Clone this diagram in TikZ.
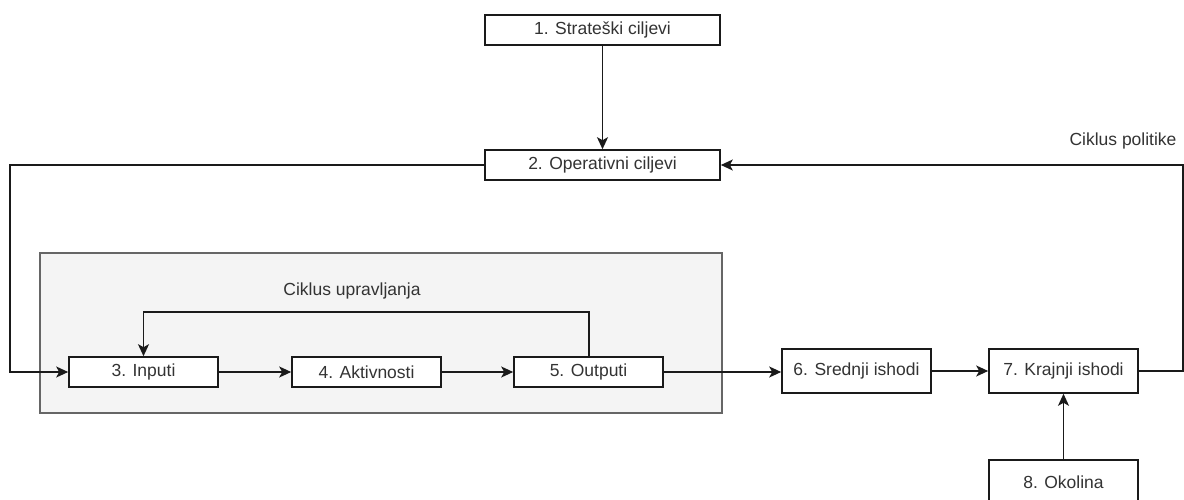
\documentclass[tikz,border=0pt]{standalone}
\usepackage{fontspec}
\setmainfont{Liberation Sans}
\usetikzlibrary{arrows.meta}
\definecolor{txt}{HTML}{333333}
\definecolor{ln}{HTML}{1A1A1A}
\definecolor{grpfill}{HTML}{F4F4F4}
\definecolor{grpline}{HTML}{666666}
\tikzset{
  box/.style={draw=ln, line width=1.6pt, fill=white, minimum width=149pt, inner sep=0pt, text=txt, font=\fontsize{17.5}{20}\selectfont},
  conn/.style={draw=ln, line width=1.6pt, -{Stealth[length=12pt,width=11pt,inset=3pt]}},
  lbl/.style={text=txt, font=\fontsize{17.5}{20}\selectfont, inner sep=0pt}
}
\begin{document}
\begin{tikzpicture}[x=1pt,y=-1pt]
\useasboundingbox (0,0) rectangle (1184,500);
\node[draw=grpline, line width=1.2pt, fill=grpfill, minimum width=682pt, minimum height=160pt, inner sep=0pt] (grp) at (381,333) {};
\node[box, minimum width=235pt, minimum height=30pt] (b1) at (602.5,30) {1. Strateški ciljevi};
\node[box, minimum width=235pt, minimum height=30pt] (b2) at (602.5,165) {2. Operativni ciljevi};
\node[box, minimum height=30pt] (b3) at (143.5,372) {3. Inputi};
\node[box, minimum height=30pt] (b4) at (366.5,372) {4. Aktivnosti};
\node[box, minimum height=30pt] (b5) at (588.5,372) {5. Outputi};
\node[box, minimum height=44pt] (b6) at (856.5,371) {6. Srednji ishodi};
\node[box, minimum height=44pt] (b7) at (1063.5,371) {7. Krajnji ishodi};
\node[box, minimum height=45pt] (b8) at (1063.5,482.5) {8. Okolina};
\node[lbl] (cu) at (352,291) {Ciklus upravljanja};
\node[lbl] (cp) at (1123,141) {Ciklus politike};
\coordinate (l1) at (10,165);
\coordinate (l2) at (10,372);
\coordinate (u1) at (589,312);
\coordinate (u2) at (143.5,312);
\coordinate (r1) at (1183,371);
\coordinate (r2) at (1183,165);
\draw[conn] (b1) -- (b2);
\draw[conn] (b2.west) -- (l1) -- (l2) -- (b3.west);
\draw[conn] (b3) -- (b4);
\draw[conn] (b4) -- (b5);
\draw[conn] (b5.north -| u1) -- (u1) -- (u2) -- (b3.north);
\draw[conn] (b5.east) -- (b6.west |- b5.east);
\draw[conn] (b6) -- (b7);
\draw[conn] (b8) -- (b7);
\draw[conn] (b7.east) -- (r1) -- (r2) -- (b2.east);
\end{tikzpicture}
\end{document}
